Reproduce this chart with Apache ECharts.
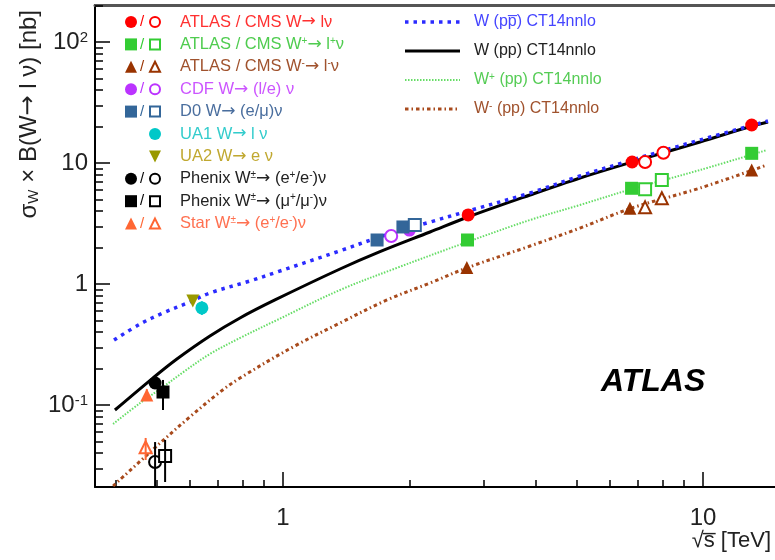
<!DOCTYPE html>
<html>
<head>
<meta charset="utf-8">
<script src="https://cdn.jsdelivr.net/npm/echarts@6.0.0/dist/echarts.min.js"></script>
<style>
html,body{margin:0;padding:0;background:#ffffff;}
#chart{width:775px;height:560px;}
</style>
</head>
<body>
<div id="chart"></div>
<script>
// ---------- axes (sqrt(s) in TeV, sigma x B in nb) ----------
const xRange = [0.3568, 14.84];
const yRange = [0.0210, 202.2];
const xMajorTicks = [1, 10];
const xMajorLabels = ['1', '10'];
const xMinorTicks = [0.4, 0.5, 0.6, 0.7, 0.8, 0.9, 2, 3, 4, 5, 6, 7, 8, 9];
const yMajorTicks = [0.1, 1, 10, 100];
const yMajorLabels = ['10^{-1}', '1', '10', '10^{2}'];
const yMinorTicks = [0.03, 0.04, 0.05, 0.06, 0.07, 0.08, 0.09,
  0.2, 0.3, 0.4, 0.5, 0.6, 0.7, 0.8, 0.9,
  2, 3, 4, 5, 6, 7, 8, 9,
  20, 30, 40, 50, 60, 70, 80, 90, 200];

// ---------- CT14nnlo predictions ----------
const curveWppbar = [[0.396,0.344],[0.457,0.467],[0.518,0.576],[0.600,0.710],[0.670,0.843],[0.834,1.059],[0.968,1.256],[1.367,1.88],[1.702,2.45],[2.239,3.25],[2.758,4.01],[3.874,5.65],[5.095,7.81],[6.776,10.59],[9.837,15.49],[14.28,22.24]];
const curveWpp = [[0.398,0.0909],[0.490,0.167],[0.559,0.240],[0.670,0.372],[0.790,0.524],[0.957,0.738],[1.367,1.33],[1.702,1.85],[2.239,2.69],[2.758,3.58],[3.874,5.44],[5.095,7.52],[6.776,10.19],[9.837,14.92],[13.08,20.22],[14.28,21.82]];
const curveWplus = [[0.394,0.0697],[0.457,0.1039],[0.510,0.1356],[0.584,0.191],[0.670,0.264],[0.790,0.358],[0.968,0.504],[1.367,0.892],[1.868,1.36],[2.743,2.22],[3.874,3.38],[5.095,4.50],[6.776,6.10],[9.837,8.75],[14.20,12.80]];
const curveWminus = [[0.394,0.0214],[0.510,0.0485],[0.600,0.0796],[0.708,0.128],[0.790,0.167],[1.056,0.3015],[1.367,0.476],[1.768,0.738],[2.239,1.019],[2.743,1.36],[3.874,2.06],[5.095,2.90],[6.776,4.25],[9.837,6.21],[14.20,9.62]];

// ---------- measurements ----------
const atlasW = [[2.76,3.72],[6.78,10.19],[13.06,20.6]];
const cmsW = [[7.28,10.2],[8.05,12.17]];
const atlasWplus = [[2.75,2.31],[6.76,6.18],[13.06,12.02]];
const cmsWplus = [[7.28,6.06],[7.98,7.24]];
const atlasWminus = [[2.74,1.37],[6.70,4.22],[13.06,8.75]];
const cmsWminus = [[7.28,4.30],[7.98,5.11]];
const cdfFilled = [[2.0,2.79]];
const cdfOpen = [[1.81,2.49]];
const d0Filled = [[1.675,2.31],[1.93,2.96]];
const d0Open = [[2.06,3.07]];
const ua1 = [[0.641,0.634]];
const ua2 = [[0.610,0.724]];
const phenixEFilled = [[0.496,0.152]];
const phenixMuFilled = [[0.518,0.128]];
const phenixEOpen = [[0.496,0.0338]];
const phenixMuOpen = [[0.524,0.0379]];
const starFilled = [[0.474,0.121]];
const starOpen = [[0.471,0.0448]];
// [x, low, high]
const phenixErrors = [[0.518,0.0909,0.161],[0.496,0.015,0.0494],[0.524,0.0231,0.0514]];
const starErrors = [[0.474,0.108,0.135],[0.471,0.0351,0.0534]];
const ua1Errors = [[0.641,0.555,0.72]];

// ---------- legends ----------
const legendLabels = ['ATLAS / CMS W\u2192 l\u03bd', 'ATLAS / CMS W^{+}\u2192 l^{+}\u03bd', 'ATLAS / CMS W^{-}\u2192 l^{-}\u03bd',
  'CDF W\u2192 (l/e) \u03bd', 'D0 W\u2192 (e/\u03bc)\u03bd', 'UA1 W\u2192 l \u03bd', 'UA2 W\u2192 e \u03bd',
  'Phenix W^{\u00b1}\u2192 (e^{+}/e^{-})\u03bd', 'Phenix W^{\u00b1}\u2192 (\u03bc^{+}/\u03bc^{-})\u03bd', 'Star W^{\u00b1}\u2192 (e^{+}/e^{-})\u03bd'];
const legendShapes = ['circle','rect','triangle','circle','rect','circle','invTriangle','circle','rect','triangle'];
const legendHasOpen = [true,true,true,true,true,false,false,true,true,true];
const markerColors = ['#ff0000','#33cc33','#993300','#bb33ff','#336699','#00c8c8','#999900','#000000','#000000','#ff6633'];
const legendTextColors = ['#ff3030','#4fcc4f','#a0522d','#cc55ff','#4a6e9e','#33cccc','#c0a830','#222222','#222222','#ff7050'];
const curveLabels = ['W (pp\u0305) CT14nnlo', 'W (pp) CT14nnlo', 'W^{+} (pp) CT14nnlo', 'W^{-} (pp) CT14nnlo'];
const curveColors = ['#2b2bff', '#000000', '#66dd66', '#a84a1c'];
const curveTextColors = ['#4545ff', '#222222', '#55cc55', '#a0522d'];
const curveDashes = [[3.5, 5], null, [1.5, 1.5], [3.5, 3, 1.5, 3]];
const curveWidths = [3.5, 3, 2, 3];

const FONT = 'Liberation Sans, Arial, Helvetica, sans-serif';
const L10 = v => Math.log10(v);
const toLog = pts => pts.map(p => p.map(L10));

function plain(seg) {
  return seg.split('\u2192').map(p => p ? '{t|' + p + '}' : '').join('{a|\u2192}');
}
function richify(s) {
  let out = '', last = 0, m;
  const re = /([\^_])\{([^}]*)\}/g;
  while ((m = re.exec(s))) {
    if (m.index > last) out += plain(s.slice(last, m.index));
    out += (m[1] === '^' ? '{s|' : '{u|') + m[2] + '}';
    last = re.lastIndex;
  }
  if (last < s.length) out += plain(s.slice(last));
  return out;
}
function labelFor(ticks, labels) {
  return v => {
    for (let i = 0; i < ticks.length; i++) if (Math.abs(L10(ticks[i]) - v) < 1e-6) return richify(labels[i]);
    return '';
  };
}

function marker(shape, filled, color, cx, cy, size) {
  const style = filled ? {fill: color} : {fill: '#fff', stroke: color, lineWidth: 2};
  const sz = filled ? size : size - 2;
  const hh = sz / 2;
  if (shape === 'circle') return {type: 'circle', shape: {cx, cy, r: hh}, style};
  if (shape === 'rect') return {type: 'rect', shape: {x: cx - hh, y: cy - hh, width: sz, height: sz}, style};
  if (shape === 'triangle') return {type: 'polygon', shape: {points: [[cx, cy - hh], [cx + hh, cy + hh], [cx - hh, cy + hh]]}, style};
  return {type: 'polygon', shape: {points: [[cx - hh, cy - hh], [cx + hh, cy - hh], [cx, cy + hh]]}, style};
}

const legendRich = {
  t: {font: '16.5px ' + FONT, lineHeight: 17, verticalAlign: 'bottom', padding: [5, 0, 0, 0]},
  a: {font: '17px DejaVu Sans', lineHeight: 17, verticalAlign: 'bottom', padding: [5, 0, 0, 0]},
  s: {font: '10px ' + FONT, lineHeight: 10, verticalAlign: 'top'}
};
const curveRich = {
  t: {font: '16px ' + FONT, lineHeight: 16, verticalAlign: 'bottom', padding: [5, 0, 0, 0]},
  s: {font: '10px ' + FONT, lineHeight: 10, verticalAlign: 'top'}
};

const graphics = [];
legendLabels.forEach((lab, i) => {
  const y = 22 + i * 22.4;
  const c = markerColors[i];
  if (legendHasOpen[i]) {
    graphics.push(marker(legendShapes[i], true, c, 131, y, 12));
    graphics.push({type: 'text', style: {text: '/', x: 142, y: y, font: '15px ' + FONT, fill: c, textAlign: 'center', textVerticalAlign: 'middle'}});
    graphics.push(marker(legendShapes[i], false, c, 155, y, 12));
  } else {
    graphics.push(marker(legendShapes[i], true, c, 155, y, 12));
  }
  graphics.push({type: 'text', style: {text: richify(lab), rich: legendRich, x: 180, y: y, fill: legendTextColors[i], textAlign: 'left', textVerticalAlign: 'middle'}});
});
curveLabels.forEach((lab, i) => {
  const y = 22 + i * 29;
  const ls = {stroke: curveColors[i], lineWidth: curveWidths[i]};
  if (curveDashes[i]) ls.lineDash = curveDashes[i];
  graphics.push({type: 'line', shape: {x1: 405, y1: y, x2: 460, y2: y}, style: ls});
  graphics.push({type: 'text', style: {text: richify(lab), rich: curveRich, x: 474, y: y, fill: curveTextColors[i], textAlign: 'left', textVerticalAlign: 'middle'}});
});
// axis titles and ATLAS label
graphics.push({type: 'text', x: 29, y: 10, rotation: Math.PI / 2, style: {
  text: richify('\u03c3_{W} \u00d7 B(W\u2192 l \u03bd) [nb]'),
  rich: {t: {font: '24px ' + FONT, lineHeight: 24, verticalAlign: 'top', padding: [0, 0, 6, 0]},
         a: {font: '24px DejaVu Sans', lineHeight: 24, verticalAlign: 'top', padding: [0, 0, 6, 0]},
         u: {font: '15px ' + FONT, lineHeight: 15, verticalAlign: 'bottom'}},
  fill: '#222', textAlign: 'right', textVerticalAlign: 'middle'}});
graphics.push({type: 'text', style: {text: '\u221as\u0305 [TeV]', x: 771, y: 541, font: '22px ' + FONT, fill: '#222', textAlign: 'right', textVerticalAlign: 'middle'}});
graphics.push({type: 'text', style: {text: 'ATLAS', x: 601, y: 382, font: 'italic bold 32px ' + FONT, fill: '#000', textAlign: 'left', textVerticalAlign: 'middle'}});

const tickRich = {
  t: {fontSize: 24, fontFamily: FONT, color: '#222', lineHeight: 24, verticalAlign: 'bottom', padding: [6, 0, 0, 0]},
  s: {fontSize: 15, fontFamily: FONT, color: '#222', lineHeight: 15, verticalAlign: 'top'}
};

const xLog = [L10(xRange[0]), L10(xRange[1])];
const yLog = [L10(yRange[0]), L10(yRange[1])];

function baseAxis(range) {
  return {type: 'value', min: range[0], max: range[1], splitLine: {show: false}, axisLine: {onZero: false, show: false}, axisTick: {show: false}, axisLabel: {show: false}};
}
const xAxes = [
  Object.assign(baseAxis(xLog), {position: 'bottom',
    axisLine: {show: true, onZero: false, lineStyle: {color: '#000', width: 2}},
    axisTick: {show: true, inside: true, length: 15, customValues: xMajorTicks.map(L10), lineStyle: {color: '#000', width: 1.5}},
    axisLabel: {show: true, margin: 19, customValues: xMajorTicks.map(L10), formatter: labelFor(xMajorTicks, xMajorLabels), rich: tickRich}}),
  Object.assign(baseAxis(xLog), {position: 'bottom',
    axisTick: {show: true, inside: true, length: 7, customValues: xMinorTicks.map(L10), lineStyle: {color: '#000', width: 1.5}}}),
  Object.assign(baseAxis(xLog), {position: 'top',
    axisLine: {show: true, onZero: false, lineStyle: {color: '#555', width: 3}}})
];
const yAxes = [
  Object.assign(baseAxis(yLog), {position: 'left',
    axisLine: {show: true, onZero: false, lineStyle: {color: '#000', width: 2}},
    axisTick: {show: true, inside: true, length: 15, customValues: yMajorTicks.map(L10), lineStyle: {color: '#000', width: 1.5}},
    axisLabel: {show: true, margin: 7, customValues: yMajorTicks.map(L10), formatter: labelFor(yMajorTicks, yMajorLabels), rich: tickRich}}),
  Object.assign(baseAxis(yLog), {position: 'left',
    axisTick: {show: true, inside: true, length: 8, customValues: yMinorTicks.map(L10), lineStyle: {color: '#000', width: 1.5}}})
];

const series = [];
const curves = [curveWminus, curveWplus, curveWpp, curveWppbar];
const curveIdx = [3, 2, 1, 0];
curves.forEach((c, k) => {
  const i = curveIdx[k];
  const ls = {color: curveColors[i], width: curveWidths[i], type: curveDashes[i] || 'solid'};
  series.push({type: 'line', data: toLog(c), showSymbol: false, smooth: 0.35, lineStyle: ls, silent: true, z: 2});
});
const markerSeries = [
  [atlasW, 'circle', markerColors[0]], [cmsW, 'emptyCircle', markerColors[0]],
  [atlasWplus, 'rect', markerColors[1]], [cmsWplus, 'emptyRect', markerColors[1]],
  [atlasWminus, 'triangle', markerColors[2]], [cmsWminus, 'emptyTriangle', markerColors[2]],
  [cdfFilled, 'circle', markerColors[3]], [cdfOpen, 'emptyCircle', markerColors[3]],
  [d0Filled, 'rect', markerColors[4]], [d0Open, 'emptyRect', markerColors[4]],
  [ua1, 'circle', markerColors[5]], [ua2, 'triangle', markerColors[6], 180],
  [phenixEFilled, 'circle', markerColors[7]], [phenixMuFilled, 'rect', markerColors[8]],
  [phenixEOpen, 'emptyCircle', markerColors[7]], [phenixMuOpen, 'emptyRect', markerColors[8]],
  [starFilled, 'triangle', markerColors[9]], [starOpen, 'emptyTriangle', markerColors[9]]
];
markerSeries.forEach(([d, sym, col, rot]) => {
  const empty = sym.indexOf('empty') === 0;
  series.push({type: 'scatter', data: toLog(d), symbol: sym, symbolSize: empty ? 12 : 13, symbolRotate: rot || 0,
    itemStyle: {color: col, borderWidth: empty ? 2 : 0, borderColor: col, opacity: 1}, silent: true, z: 4});
});
[[phenixErrors, '#000'], [starErrors, markerColors[9]], [ua1Errors, markerColors[5]]].forEach(([d, col]) => {
  series.push({type: 'custom', data: toLog(d), clip: true, z: 5, silent: true,
    encode: {x: 0, y: [1, 2]},
    renderItem: (params, api) => {
      const p1 = api.coord([api.value(0), api.value(1)]);
      const p2 = api.coord([api.value(0), api.value(2)]);
      return {type: 'line', shape: {x1: p1[0], y1: p1[1], x2: p2[0], y2: p2[1]}, style: {stroke: col, lineWidth: 2}};
    }});
});

const chart = echarts.init(document.getElementById('chart'), null, {renderer: 'canvas'});
chart.setOption({
  animation: false,
  backgroundColor: '#ffffff',
  grid: {left: 95, top: 5, right: 0, bottom: 73, containLabel: false},
  xAxis: xAxes,
  yAxis: yAxes,
  series: series,
  graphic: {elements: graphics}
});
</script>
</body>
</html>
